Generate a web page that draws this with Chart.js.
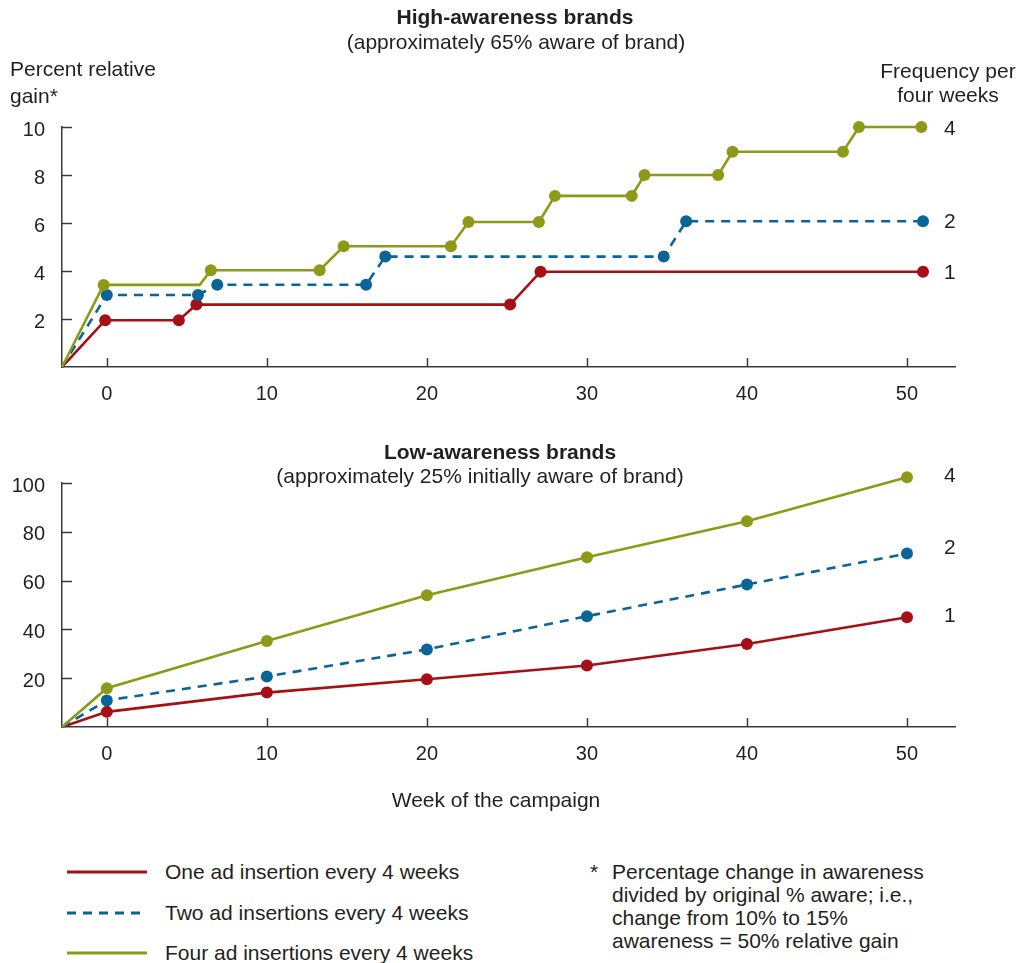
<!DOCTYPE html>
<html>
<head>
<meta charset="utf-8">
<script src="https://cdn.jsdelivr.net/npm/chart.js@4/dist/chart.umd.min.js"></script>
<style>
  body { margin: 0; background: #fff; font-family: "Liberation Sans", Arial, sans-serif; color: #231f20; }
  #wrap { position: relative; width: 1019px; height: 963px; overflow: hidden; }
  canvas { position: absolute; left: 0; }
  .t { position: absolute; white-space: nowrap; font-size: 21px; line-height: 24px; }
  .c { text-align: center; }
  .b { font-weight: bold; }
</style>
</head>
<body>
<div id="wrap">
  <canvas id="highChart" style="top:0"></canvas>
  <canvas id="lowChart" style="top:420px"></canvas>

  <div class="t c b" style="left:315px; top:5px; width:400px;">High-awareness brands</div>
  <div class="t c" style="left:266px; top:30px; width:500px;">(approximately 65% aware of brand)</div>
  <div class="t" style="left:10px; top:55px; line-height:27px;">Percent relative<br>gain*</div>
  <div class="t c" style="left:868px; top:59px; width:160px;">Frequency per<br>four weeks</div>
  <div class="t" style="left:944px; top:116px;">4</div>
  <div class="t" style="left:944px; top:209px;">2</div>
  <div class="t" style="left:944px; top:260px;">1</div>

  <div class="t c b" style="left:300px; top:440px; width:400px;">Low-awareness brands</div>
  <div class="t c" style="left:230px; top:464px; width:500px;">(approximately 25% initially aware of brand)</div>
  <div class="t" style="left:944px; top:463px;">4</div>
  <div class="t" style="left:944px; top:535px;">2</div>
  <div class="t" style="left:944px; top:603px;">1</div>

  <div class="t c" style="left:296px; top:788px; width:400px;">Week of the campaign</div>

  <svg style="position:absolute; left:0; top:850px;" width="160" height="113">
    <line x1="67" y1="22" x2="147" y2="22" stroke="#a50f15" stroke-width="3"/>
    <line x1="67" y1="63" x2="147" y2="63" stroke="#0b6496" stroke-width="3" stroke-dasharray="9 7"/>
    <line x1="67" y1="103" x2="147" y2="103" stroke="#8c9a17" stroke-width="3"/>
  </svg>
  <div class="t" style="left:165px; top:860px;">One ad insertion every 4 weeks</div>
  <div class="t" style="left:165px; top:901px;">Two ad insertions every 4 weeks</div>
  <div class="t" style="left:165px; top:941px;">Four ad insertions every 4 weeks</div>

  <div class="t" style="left:590px; top:860px; line-height:23px;">*</div>
  <div class="t" style="left:612px; top:860px; line-height:23px;">Percentage change in awareness<br>divided by original % aware; i.e.,<br>change from 10% to 15%<br>awareness = 50% relative gain</div>
</div>

<script>
// High-awareness panel (step-like series)
const highOneWeeks = [-2.8, -0.1, 4.5, 5.6, 25.2, 27.1, 51];
const highOneGain = [0, 1.95, 1.95, 2.6, 2.6, 3.97, 3.97];
const highTwoWeeks = [-2.8, 0, 5.7, 6.9, 16.2, 17.4, 34.8, 36.2, 51];
const highTwoGain = [0, 3.0, 3.0, 3.43, 3.43, 4.6, 4.6, 6.07, 6.07];
const highFourWeeks = [-2.8, -0.2, 5.8, 6.5, 13.3, 14.8, 21.5, 22.6, 27.0, 28.0, 32.8, 33.6, 38.2, 39.1, 46.0, 47.0, 50.9];
const highFourGain = [0, 3.42, 3.42, 4.03, 4.03, 5.03, 5.03, 6.04, 6.04, 7.13, 7.13, 8.0, 8.0, 8.97, 8.97, 10.0, 10.0];

// Low-awareness panel
const lowWeeks = [-2.8, 0, 10, 20, 30, 40, 50];
const lowOneGain = [0, 6.2, 14.1, 19.6, 25.2, 34.0, 45.0];
const lowTwoGain = [0, 10.9, 20.7, 31.8, 45.4, 58.4, 71.1];
const lowFourGain = [0, 15.9, 35.2, 54.0, 69.6, 84.3, 102.4];

// Tick labels
const weekTicks = [0, 10, 20, 30, 40, 50];
const highGainTicks = [2, 4, 6, 8, 10];
const lowGainTicks = [20, 40, 60, 80, 100];

const RED = '#a50f15';
const BLUE = '#0b6496';
const OLIVE = '#8c9a17';
const INK = '#231f20';
const AXIS = '#3a3a3a';

function pairs(xs, ys) {
  return xs.map((x, i) => ({ x: x, y: ys[i] }));
}

function series(label, xs, ys, color, dashed, bare) {
  const hide = bare || [0];
  return {
    label: label,
    data: pairs(xs, ys),
    borderColor: color,
    backgroundColor: color,
    borderWidth: 2.6,
    borderDash: dashed ? [9, 7] : [],
    pointRadius: ctx => (hide.includes(ctx.dataIndex) ? 0 : 6),
    pointHoverRadius: 6,
    pointBorderWidth: 0,
    tension: 0,
    clip: false
  };
}

// small tick marks that point into the plot
const inwardTicks = {
  id: 'inwardTicks',
  beforeDatasetsDraw(chart) {
    const ctx = chart.ctx;
    const xs = chart.scales.x;
    const ys = chart.scales.y;
    ctx.save();
    ctx.strokeStyle = AXIS;
    ctx.lineWidth = 1.5;
    ctx.beginPath();
    xs.ticks.forEach(t => {
      const px = Math.round(xs.getPixelForValue(t.value)) + 0.5;
      ctx.moveTo(px, ys.bottom);
      ctx.lineTo(px, ys.bottom - 9);
    });
    ys.ticks.forEach(t => {
      const py = Math.round(ys.getPixelForValue(t.value)) + 0.5;
      ctx.moveTo(xs.left, py);
      ctx.lineTo(xs.left + 10, py);
    });
    ctx.stroke();
    ctx.restore();
  }
};

function makeChart(id, height, padTop, xHeight, yMax, yTicks, datasets) {
  const canvas = document.getElementById(id);
  canvas.style.width = '1019px';
  canvas.style.height = height + 'px';
  return new Chart(canvas, {
    type: 'line',
    data: { datasets: datasets },
    plugins: [inwardTicks],
    options: {
      responsive: false,
      animation: false,
      devicePixelRatio: 1,
      layout: { padding: { top: padTop, right: 64, left: 0, bottom: 0 } },
      plugins: { legend: { display: false }, tooltip: { enabled: false } },
      scales: {
        x: {
          type: 'linear',
          min: -2.8,
          max: 53,
          afterBuildTicks: s => { s.ticks = weekTicks.map(v => ({ value: v })); },
          afterFit: s => { s.height = xHeight; },
          grid: { display: false, drawTicks: false },
          border: { display: true, color: AXIS, width: 1.5 },
          ticks: { padding: 15, color: INK, font: { family: 'Liberation Sans', size: 20 } }
        },
        y: {
          type: 'linear',
          min: 0,
          max: yMax,
          afterBuildTicks: s => { s.ticks = yTicks.map(v => ({ value: v })); },
          afterFit: s => { s.width = 62; },
          grid: { display: false, drawTicks: false },
          border: { display: true, color: AXIS, width: 1.5 },
          ticks: { padding: 17, labelOffset: 3, color: INK, font: { family: 'Liberation Sans', size: 20 } }
        }
      }
    }
  });
}

const highCanvas = document.getElementById('highChart');
highCanvas.width = 1019; highCanvas.height = 420;
const lowCanvas = document.getElementById('lowChart');
lowCanvas.width = 1019; lowCanvas.height = 410;

makeChart('highChart', 420, 127, 53, 10, highGainTicks, [
  series('Four ad insertions every 4 weeks', highFourWeeks, highFourGain, OLIVE, false, [0, 2]),
  series('Two ad insertions every 4 weeks', highTwoWeeks, highTwoGain, BLUE, true),
  series('One ad insertion every 4 weeks', highOneWeeks, highOneGain, RED, false)
]);

makeChart('lowChart', 410, 63, 103, 100, lowGainTicks, [
  series('Four ad insertions every 4 weeks', lowWeeks, lowFourGain, OLIVE, false),
  series('Two ad insertions every 4 weeks', lowWeeks, lowTwoGain, BLUE, true),
  series('One ad insertion every 4 weeks', lowWeeks, lowOneGain, RED, false)
]);
</script>
</body>
</html>
